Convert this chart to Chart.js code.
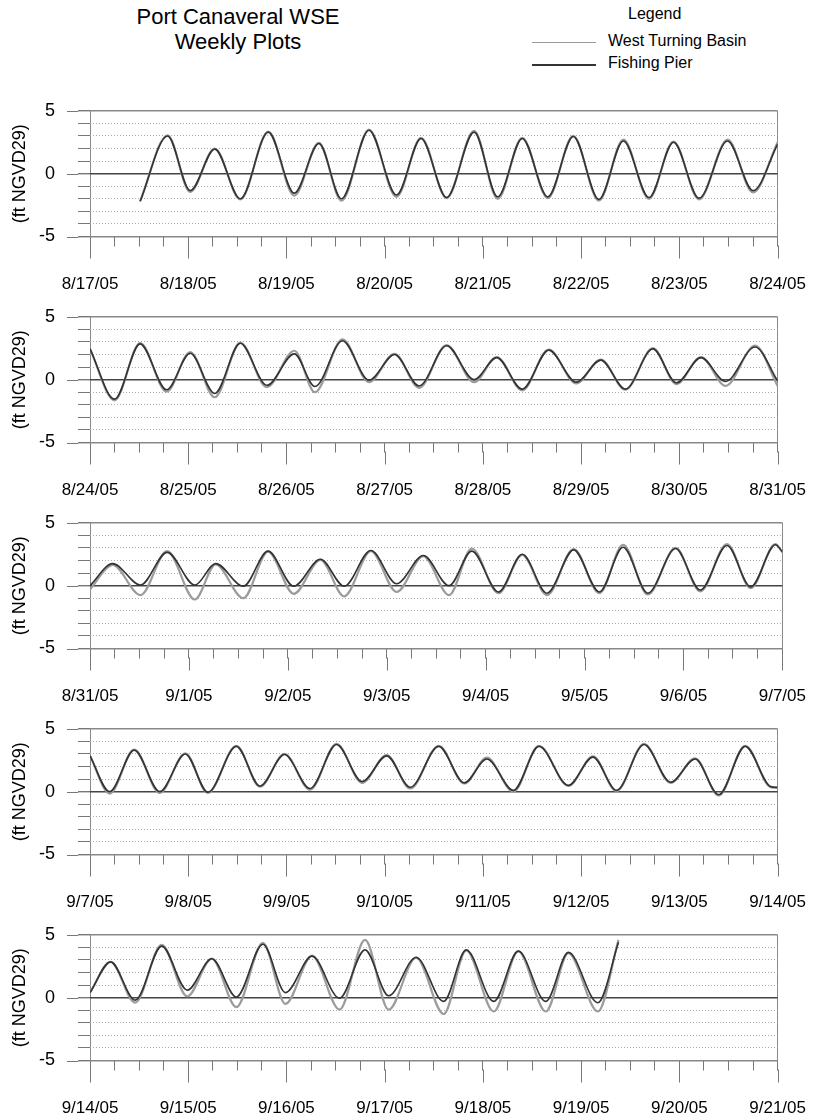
<!DOCTYPE html>
<html lang="en">
<head>
<meta charset="UTF-8">
<title>Port Canaveral WSE Weekly Plots</title>
<script src="https://cdn.jsdelivr.net/npm/chart.js"></script>
<style>
  body { margin: 0; background: #fff; font-family: "Liberation Sans", Arial, sans-serif; color: #000; }
  #page { position: relative; width: 834px; height: 1117px; overflow: hidden; }
  .title { position: absolute; left: 108px; width: 260px; text-align: center; font-size: 22px; line-height: 25px; top: 4px; }
  .legend { position: absolute; font-size: 16px; }
  .swatch { position: absolute; height: 0; }
  canvas { position: absolute; left: 0; }
</style>
</head>
<body>
<div id="page">
  <div class="title">Port Canaveral WSE<br>Weekly Plots</div>
  <div class="legend" style="left:628px; top:5px;">Legend</div>
  <div class="swatch" style="left:532px; top:42px; width:64px; border-top:1px solid #999;"></div>
  <div class="legend" style="left:608px; top:32px;">West Turning Basin</div>
  <div class="swatch" style="left:532px; top:64px; width:64px; border-top:2px solid #333;"></div>
  <div class="legend" style="left:608px; top:54px;">Fishing Pier</div>

  <canvas id="p0" width="834" height="225" style="top:77px"></canvas>
  <canvas id="p1" width="834" height="225" style="top:283px"></canvas>
  <canvas id="p2" width="834" height="225" style="top:489px"></canvas>
  <canvas id="p3" width="834" height="225" style="top:695px"></canvas>
  <canvas id="p4" width="834" height="225" style="top:901px"></canvas>
</div>

<script>
// week 1: 8/17/05 - 8/24/05 (days from start of week, highs and lows)
const dates1 = ['8/17/05', '8/18/05', '8/19/05', '8/20/05', '8/21/05', '8/22/05', '8/23/05', '8/24/05'];
const days1 = [0.51, 0.79, 1.02, 1.27, 1.53, 1.815, 2.08, 2.33, 2.56, 2.84, 3.12, 3.37, 3.63, 3.91, 4.15, 4.40, 4.66, 4.92, 5.18, 5.43, 5.69, 5.94, 6.20, 6.49, 6.75, 7.0];
const pier1 = [-2.2, 3.0, -1.35, 1.95, -2.0, 3.3, -1.55, 2.4, -2.0, 3.45, -1.7, 2.8, -1.9, 3.3, -1.85, 2.8, -1.85, 2.95, -2.05, 2.6, -1.9, 2.5, -1.95, 2.6, -1.35, 2.35];
const basin1 = [-2.2, 3.05, -1.45, 2.0, -2.05, 3.35, -1.75, 2.45, -2.15, 3.5, -1.85, 2.85, -1.95, 3.4, -2.0, 2.85, -1.95, 3.0, -2.15, 2.7, -2.0, 2.55, -2.05, 2.7, -1.5, 2.5];

// week 2: 8/24/05 - 8/31/05
const dates2 = ['8/24/05', '8/25/05', '8/26/05', '8/27/05', '8/28/05', '8/29/05', '8/30/05', '8/31/05'];
const days2 = [0, 0.25, 0.51, 0.78, 1.02, 1.27, 1.53, 1.80, 2.08, 2.29, 2.57, 2.84, 3.10, 3.35, 3.63, 3.91, 4.14, 4.40, 4.67, 4.95, 5.20, 5.45, 5.73, 5.97, 6.22, 6.47, 6.77, 7.0];
const pier2 = [2.45, -1.55, 2.85, -0.8, 2.1, -1.1, 2.9, -0.45, 2.05, -0.55, 3.1, -0.05, 2.0, -0.5, 2.7, 0.0, 1.75, -0.75, 2.35, -0.2, 1.55, -0.75, 2.45, -0.25, 1.75, -0.15, 2.6, -0.1];
const basin2 = [2.45, -1.65, 2.9, -0.95, 2.2, -1.4, 2.95, -0.6, 2.3, -1.0, 3.2, -0.2, 2.05, -0.65, 2.75, -0.2, 1.8, -0.85, 2.4, -0.3, 1.6, -0.8, 2.5, -0.35, 1.8, -0.5, 2.7, -0.5];

// week 3: 8/31/05 - 9/7/05
const dates3 = ['8/31/05', '9/1/05', '9/2/05', '9/3/05', '9/4/05', '9/5/05', '9/6/05', '9/7/05'];
const days3 = [0, 0.23, 0.51, 0.78, 1.06, 1.27, 1.55, 1.80, 2.06, 2.33, 2.57, 2.84, 3.10, 3.37, 3.63, 3.86, 4.13, 4.37, 4.62, 4.89, 5.15, 5.39, 5.64, 5.92, 6.17, 6.44, 6.68, 6.93, 7.0];
const pier3 = [0.0, 1.75, 0.05, 2.65, 0.05, 1.75, -0.05, 2.75, -0.05, 2.1, -0.05, 2.8, 0.15, 2.4, 0.0, 2.75, -0.5, 2.5, -0.6, 2.85, -0.5, 3.05, -0.6, 2.95, -0.35, 3.2, -0.1, 3.25, 2.7];
const basin3 = [-0.3, 1.65, -0.75, 2.75, -1.1, 1.7, -1.0, 2.7, -0.65, 2.05, -0.85, 2.75, -0.5, 2.35, -0.75, 2.95, -0.6, 2.45, -0.75, 2.9, -0.6, 3.25, -0.7, 3.0, -0.45, 3.3, -0.2, 3.3, 2.65];

// week 4: 9/7/05 - 9/14/05
const dates4 = ['9/7/05', '9/8/05', '9/9/05', '9/10/05', '9/11/05', '9/12/05', '9/13/05', '9/14/05'];
const days4 = [0, 0.20, 0.45, 0.71, 0.97, 1.20, 1.49, 1.73, 1.98, 2.24, 2.51, 2.77, 3.02, 3.26, 3.55, 3.81, 4.04, 4.31, 4.57, 4.87, 5.12, 5.36, 5.64, 5.91, 6.16, 6.40, 6.67, 6.93, 7.0];
const pier4 = [2.85, 0.0, 3.3, 0.0, 3.0, -0.05, 3.6, 0.45, 2.95, 0.25, 3.75, 0.8, 2.85, 0.35, 3.6, 0.7, 2.6, 0.1, 3.6, 0.5, 2.75, 0.1, 3.75, 0.75, 2.6, -0.25, 3.6, 0.4, 0.35];
const basin4 = [2.85, -0.15, 3.35, -0.1, 3.05, -0.1, 3.65, 0.4, 3.0, 0.15, 3.8, 0.7, 2.9, 0.25, 3.65, 0.65, 2.7, 0.0, 3.65, 0.45, 2.8, 0.05, 3.8, 0.7, 2.65, -0.3, 3.65, 0.35, 0.3];

// week 5: 9/14/05 - 9/21/05 (record stops on 9/19)
const dates5 = ['9/14/05', '9/15/05', '9/16/05', '9/17/05', '9/18/05', '9/19/05', '9/20/05', '9/21/05'];
const days5 = [0, 0.21, 0.46, 0.73, 0.99, 1.24, 1.49, 1.76, 1.99, 2.26, 2.54, 2.8, 3.04, 3.32, 3.60, 3.83, 4.11, 4.36, 4.64, 4.87, 5.17, 5.38];
const pier5 = [0.4, 2.85, -0.2, 4.1, 0.6, 3.1, 0.05, 4.25, 0.4, 3.3, -0.05, 3.8, 0.15, 3.2, -0.3, 3.8, -0.3, 3.7, -0.3, 3.6, -0.4, 4.4];
const basin5 = [0.4, 2.85, -0.4, 4.2, 0.1, 3.1, -0.75, 4.35, -0.5, 3.35, -0.95, 4.6, -0.95, 3.2, -1.3, 3.75, -1.1, 3.7, -1.1, 3.55, -1.1, 4.6];

// y axis: a grid line every foot, labels only at these
const yGridValues = [-5, -4, -3, -2, -1, 0, 1, 2, 3, 4, 5];
const yLabelValues = [-5, 0, 5];

const weeks = [
  { dates: dates1, days: days1, pier: pier1, basin: basin1 },
  { dates: dates2, days: days2, pier: pier2, basin: basin2 },
  { dates: dates3, days: days3, pier: pier3, basin: basin3 },
  { dates: dates4, days: days4, pier: pier4, basin: basin4 },
  { dates: dates5, days: days5, pier: pier5, basin: basin5 }
];

const FONT = '"Liberation Sans", Arial, sans-serif';

// long ticks: day marks below the plot, 5/0/-5 marks left of it
const longTicks = {
  id: 'longTicks',
  afterDraw(chart) {
    const x = chart.scales.x, y = chart.scales.y, ctx = chart.ctx;
    ctx.save();
    ctx.strokeStyle = '#777';
    ctx.lineWidth = 1;
    ctx.beginPath();
    for (let d = 0; d <= 7; d++) {
      const px = Math.round(x.getPixelForValue(d)) + 0.5;
      ctx.moveTo(px, y.bottom + 9);
      ctx.lineTo(px, y.bottom + 22);
    }
    for (const v of yLabelValues) {
      const py = Math.round(y.getPixelForValue(v)) + 0.5;
      ctx.moveTo(x.left - 12, py);
      ctx.lineTo(x.left - 23, py);
    }
    ctx.stroke();
    ctx.restore();
  }
};

weeks.forEach((w, i) => {
  new Chart(document.getElementById('p' + i), {
    type: 'line',
    data: {
      datasets: [
        {
          label: 'Fishing Pier',
          data: w.days.map((d, k) => ({ x: d, y: w.pier[k] })),
          borderColor: '#333',
          borderWidth: 1.6,
          pointRadius: 0,
          cubicInterpolationMode: 'monotone'
        },
        {
          label: 'West Turning Basin',
          data: w.days.map((d, k) => ({ x: d, y: w.basin[k] })),
          borderColor: '#9c9c9c',
          borderWidth: 2.2,
          pointRadius: 0,
          cubicInterpolationMode: 'monotone'
        }
      ]
    },
    options: {
      responsive: false,
      animation: false,
      events: [],
      layout: { padding: { top: 12, right: 37, left: 0, bottom: 0 } },
      plugins: { legend: { display: false }, tooltip: { enabled: false } },
      scales: {
        x: {
          type: 'linear',
          min: 0,
          max: 7,
          afterFit: s => { s.height = 65.5; },
          afterBuildTicks: s => {
            s.ticks = [];
            for (let q = 0; q <= 28; q++) s.ticks.push({ value: q / 4 });
          },
          border: { display: false },
          grid: {
            color: c => (c.tick && (c.tick.value === 0 || c.tick.value === 7)) ? '#8a8a8a' : 'rgba(0,0,0,0)',
            tickColor: '#777',
            tickLength: 10
          },
          ticks: {
            autoSkip: false,
            maxRotation: 0,
            padding: 28,
            color: '#000',
            font: { family: FONT, size: 17 },
            callback: v => Number.isInteger(v) ? w.dates[v] : ''
          }
        },
        y: {
          min: -5,
          max: 5,
          afterFit: s => { s.width = 90; },
          afterBuildTicks: s => { s.ticks = yGridValues.map(v => ({ value: v })); },
          border: {
            display: false,
            dash: c => (c.tick && c.tick.value % 5 === 0) ? [] : [1, 2]
          },
          grid: {
            color: c => {
              if (!c.tick) return '#aaa';
              if (c.tick.value === 0) return '#444';
              if (Math.abs(c.tick.value) === 5) return '#888';
              return '#aaa';
            },
            lineWidth: c => (c.tick && c.tick.value % 5 === 0) ? 1.4 : 1,
            tickColor: '#777',
            tickLength: 12
          },
          ticks: {
            autoSkip: false,
            padding: 23,
            color: '#000',
            font: { family: FONT, size: 18 },
            callback: v => yLabelValues.includes(v) ? String(v) : ''
          },
          title: {
            display: true,
            text: '(ft NGVD29)',
            color: '#000',
            font: { family: FONT, size: 18 },
            padding: { top: 9, bottom: 0 }
          }
        }
      }
    },
    plugins: [longTicks]
  });
});
</script>
</body>
</html>
